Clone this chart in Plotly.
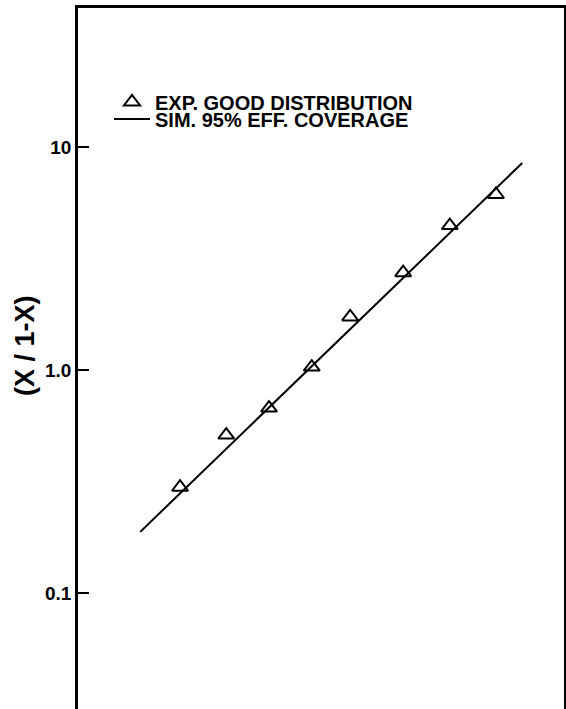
import plotly.graph_objects as go

# Experimental points: X/(1-X) ratio (x axis unlabeled in source; arbitrary units)
x_exp = [2.10, 3.05, 3.93, 4.81, 5.60, 6.69, 7.65, 8.60]
y_exp = [0.298, 0.511, 0.675, 1.03, 1.73, 2.73, 4.44, 6.12]

# Simulation line (95% effective coverage)
x_sim = [1.28, 9.14]
y_sim = [0.188, 8.47]

tick_vals = [0.1, 1, 10]
tick_text = ["0.1", "1.0", "10"]
y_title = "(X / 1-X)"

FONT = "Liberation Sans, Arial, Helvetica, sans-serif"
W, H = 566, 709
L, R, T, B = 78, 2, 8, 0
PW, PH = W - L - R, H - T - B
LEG_FONT = dict(family=FONT, size=20, color="black", weight="bold")

fig = go.Figure()
fig.add_trace(go.Scatter(
    x=x_exp, y=y_exp, mode="markers", name="EXP. GOOD DISTRIBUTION",
    legend="legend",
    marker=dict(symbol="triangle-up-open", size=14, color="black",
                line=dict(width=2, color="black")),
))
fig.add_trace(go.Scatter(
    x=x_sim, y=y_sim, mode="lines", name="SIM. 95% EFF. COVERAGE",
    legend="legend2",
    line=dict(color="black", width=2),
))

leg_common = dict(xanchor="left", yanchor="middle", bgcolor="rgba(0,0,0,0)",
                  borderwidth=0, font=LEG_FONT, itemwidth=36)

fig.update_layout(
    width=W, height=H,
    margin=dict(l=L, r=R, t=T, b=B),
    paper_bgcolor="white", plot_bgcolor="white",
    font=dict(family=FONT, color="black", size=17, weight="bold"),
    showlegend=True,
    legend=dict(x=(109 - L) / PW, y=1 - (102 - T) / PH, **leg_common),
    legend2=dict(x=(109 - L) / PW, y=1 - (119 - T) / PH, **leg_common),
    xaxis=dict(
        range=[0, 10], side="top", showline=True, linecolor="black", linewidth=3,
        showgrid=False, zeroline=False, showticklabels=False, ticks="",
    ),
    yaxis=dict(
        type="log", range=[-1.520, 1.623],
        showline=True, mirror=True, linecolor="black", linewidth=2.5,
        showgrid=False, zeroline=False,
        ticks="inside", ticklen=11, tickwidth=2, tickcolor="black",
        tickvals=tick_vals, ticktext=tick_text,
        tickfont=dict(family=FONT, size=19, color="black", weight="bold"),
    ),
    annotations=[dict(
        text=y_title, textangle=-90, showarrow=False,
        xref="paper", yref="paper",
        x=(25 - L) / PW, y=1 - (346 - T) / PH,
        xanchor="center", yanchor="middle",
        font=dict(family=FONT, size=27, color="black", weight="bold"),
    )],
)

fig.write_html(
    "out.html",
    config={"displayModeBar": False},
    post_script="document.body.style.margin='0';document.body.style.overflow='hidden';",
)
